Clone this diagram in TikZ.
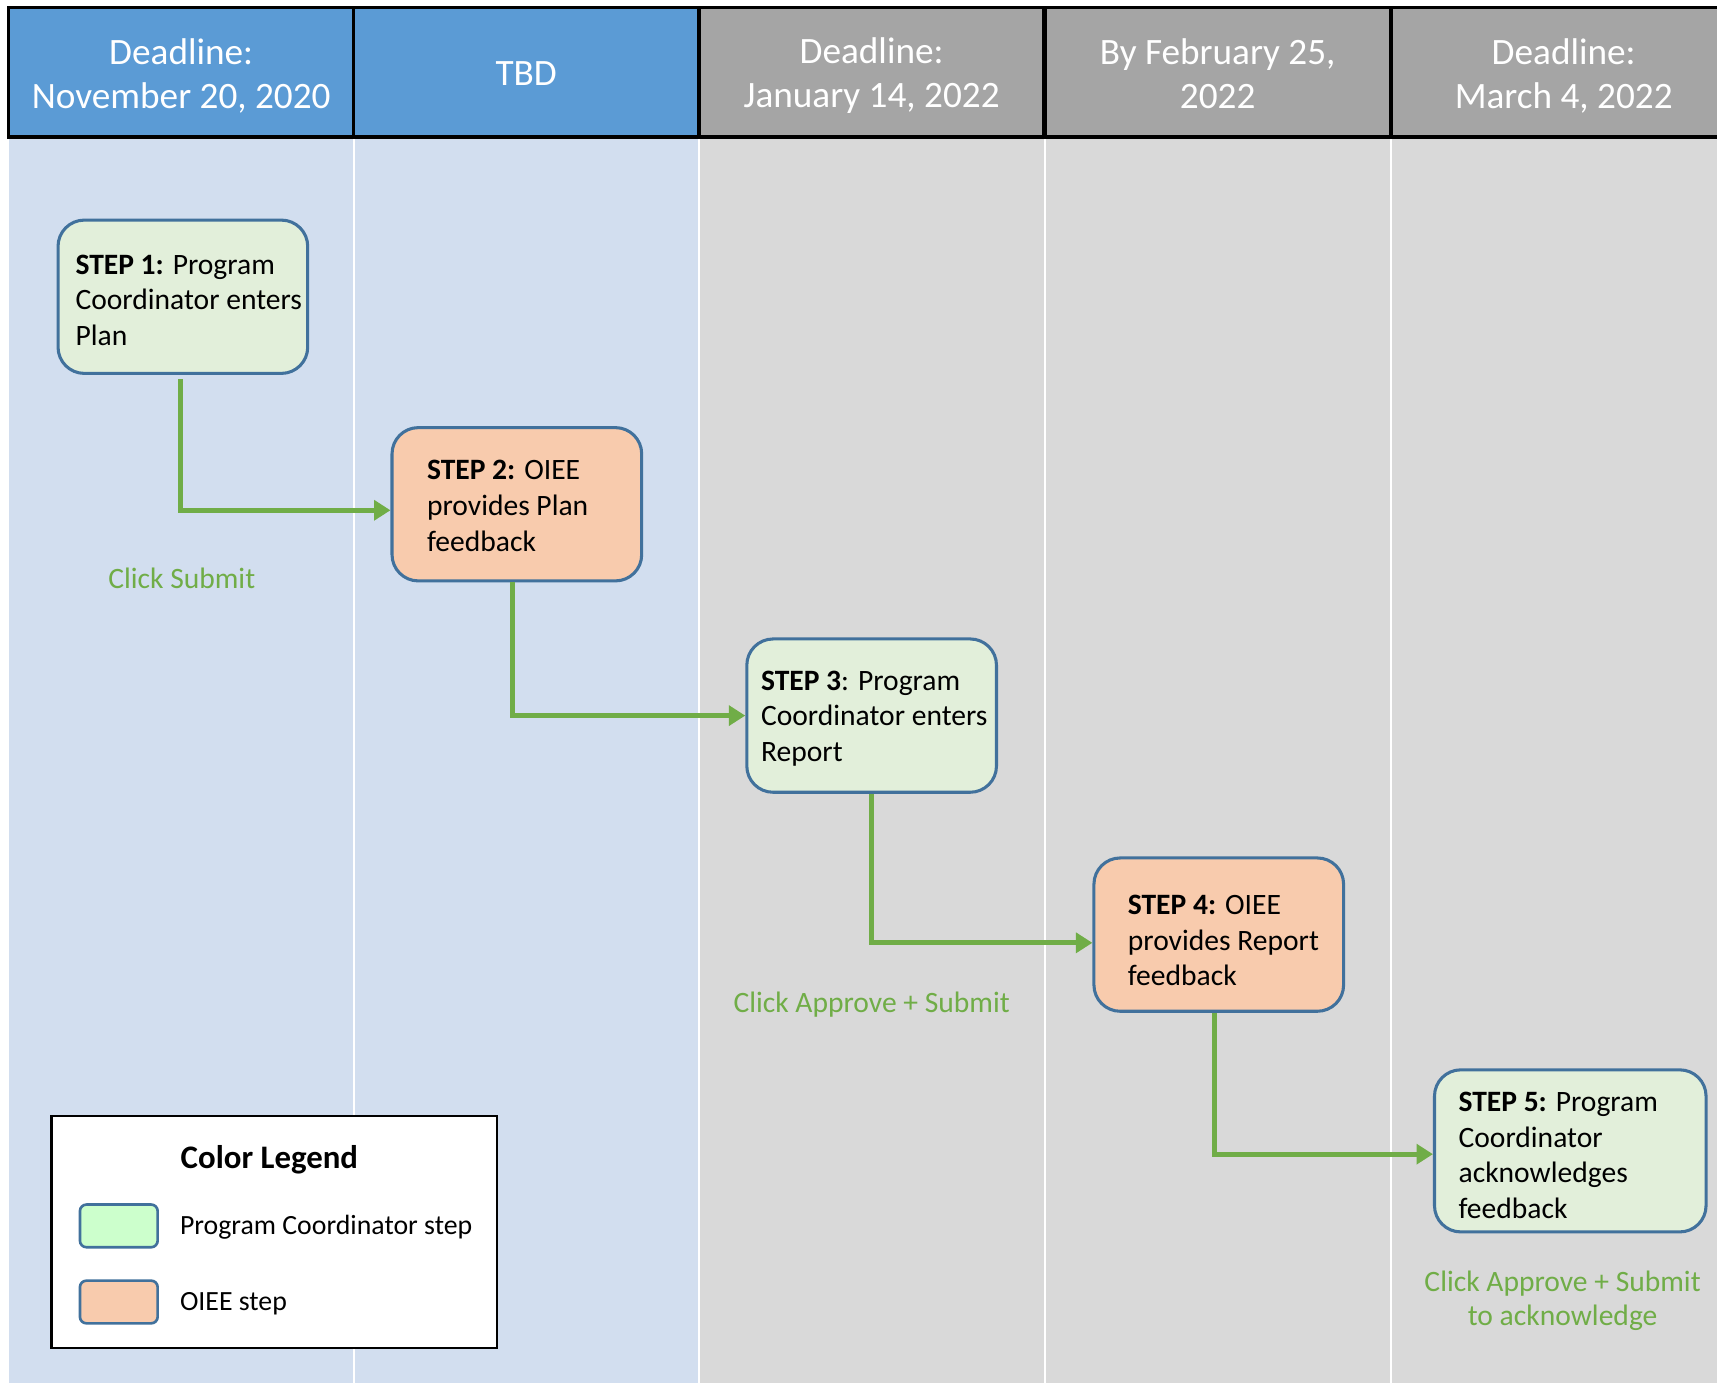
\documentclass[tikz,border=0pt]{standalone}
\usepackage{fontspec}
\setmainfont{Carlito}
\usetikzlibrary{arrows.meta}
\definecolor{hblue}{HTML}{5B9BD5}
\definecolor{hgray}{HTML}{A5A5A5}
\definecolor{bblue}{HTML}{D2DEEF}
\definecolor{bgray}{HTML}{D9D9D9}
\definecolor{pcfill}{HTML}{E2EFDA}
\definecolor{oifill}{HTML}{F8CBAD}
\definecolor{bord}{HTML}{41719C}
\definecolor{flowgreen}{HTML}{70AD47}
\definecolor{legreen}{HTML}{CCFFCC}
\begin{document}
\begin{tikzpicture}[x=0.5pt,y=-0.5pt,
 hdr/.style={draw=black,line width=1.5pt,minimum width=157.5pt,minimum height=59pt,inner sep=0pt,outer sep=0pt,text=white,align=center,font=\fontsize{17}{20}\selectfont},
 hdrb/.style={hdr,fill=hblue},
 hdrg/.style={hdr,fill=hgray},
 hdrtext/.style={inner sep=0pt,text=white,align=center,font=\fontsize{17}{20}\selectfont},
 stepbox/.style={draw=bord,line width=1.4pt,rounded corners=12pt,minimum width=114pt,minimum height=70pt,inner sep=0pt},
 pcstep/.style={stepbox,fill=pcfill},
 oiestep/.style={stepbox,fill=oifill},
 steptext/.style={anchor=west,inner sep=0pt,align=left,font=\fontsize{13.5}{16.25}\selectfont},
 flow/.style={draw=flowgreen,line width=2.3pt,-{Triangle[length=7.5pt,width=9pt]}},
 lbl/.style={text=flowgreen,align=center,inner sep=0pt,font=\fontsize{13.5}{15.5}\selectfont},
 sepline/.style={draw=white,line width=1pt},
 swatch/.style={draw=bord,line width=1.2pt,rounded corners=3pt,minimum width=35.5pt,minimum height=19.5pt,inner sep=0pt},
 legtext/.style={anchor=west,inner sep=0pt,font=\fontsize{12.7}{15}\selectfont}
]
\useasboundingbox (0,0) rectangle (1568,1263);
\begin{scope}
\clip (0,0) rectangle (1568,1263);
% body lanes
\fill[bblue] (8,125) rectangle (638,1263);
\fill[bgray] (638,125) rectangle (1600,1263);
\foreach \x in {323,638,954,1270} \draw[sepline] (\x,125) -- (\x,1263);
% header cells
\node[hdrb] (h1) at (165.5,66) {};
\node[hdrb] (h2) at (480.5,66) {};
\node[hdrg] (h3) at (796,66) {};
\node[hdrg] (h4) at (1112,66) {};
\node[hdrg] (h5) at (1428,66) {};
\node[hdrtext] (h1t) at ([yshift=-1.5pt]h1.center) {Deadline:\\November 20, 2020};
\node[hdrtext] (h2t) at ([yshift=-0.5pt]h2.center) {TBD};
\node[hdrtext] (h3t) at ([yshift=-1.5pt]h3.center) {Deadline:\\January 14, 2022};
\node[hdrtext] (h4t) at ([yshift=-0.5pt]h4.center) {By February 25,\\2022};
\node[hdrtext] (h5t) at ([yshift=-1.5pt]h5.center) {Deadline:\\March 4, 2022};
% steps
\node[pcstep] (s1) at (167,271) {};
\node[oiestep] (s2) at (472,460.5) {};
\node[pcstep] (s3) at (796,653.5) {};
\node[oiestep] (s4) at (1113,853.5) {};
\node[pcstep,minimum width=124pt,minimum height=74pt] (s5) at (1434,1051) {};
\node[steptext] (s1t) at ([xshift=8.5pt,yshift=-1.5pt]s1.west) {\textbf{STEP 1:} Program\\Coordinator enters\\Plan};
\node[steptext] (s2t) at ([xshift=16.5pt,yshift=-0.75pt]s2.west) {\textbf{STEP 2:} OIEE\\provides Plan\\feedback};
\node[steptext] (s3t) at ([xshift=7pt,yshift=-1.25pt]s3.west) {\textbf{STEP 3}: Program\\Coordinator enters\\Report};
\node[steptext] (s4t) at ([xshift=16pt,yshift=-2.75pt]s4.west) {\textbf{STEP 4:} OIEE\\provides Report\\feedback};
\node[steptext] (s5t) at ([xshift=11.5pt,yshift=-2pt]s5.west) {\textbf{STEP 5:} Program\\Coordinator\\acknowledges\\feedback};
% connectors
\draw[flow] ([xshift=-1pt,yshift=-2pt]s1.south) |- ([yshift=-2.75pt]s2.west);
\draw[flow] ([xshift=-2pt]s2.south) |- (s3.west);
\draw[flow] (s3.south) |- ([yshift=-3.75pt]s4.west);
\draw[flow] ([xshift=-2pt]s4.south) |- ([yshift=-1.5pt]s5.west);
% labels
\node[lbl] (l1) at (166,528) {Click Submit};
\node[lbl] (l2) at (796,917) {Click Approve + Submit};
\node[lbl] (l3) at (1427,1188) {Click Approve + Submit\\to acknowledge};
% legend
\node[draw=black,line width=1.2pt,fill=white,minimum width=203.5pt,minimum height=106pt,inner sep=0pt] (leg) at (250.5,1125) {};
\node[inner sep=0pt,font=\bfseries\fontsize{15}{18}\selectfont] (legt) at (246,1059) {Color Legend};
\node[swatch,fill=legreen] (sw1) at (108.5,1119.5) {};
\node[swatch,fill=oifill] (sw2) at (108.5,1189) {};
\node[legtext] (lt1) at (164,1121) {Program Coordinator step};
\node[legtext] (lt2) at (164,1191) {OIEE step};
\end{scope}
\end{tikzpicture}
\end{document}
